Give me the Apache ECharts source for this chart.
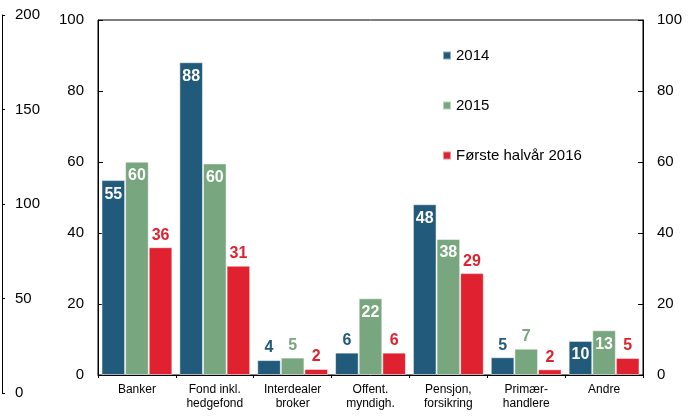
<!DOCTYPE html>
<html>
<head>
<meta charset="utf-8">
<script src="https://cdn.jsdelivr.net/npm/echarts@6/dist/echarts.min.js"></script>
<style>
  html, body { margin: 0; padding: 0; background: #fff; }
  #chart { width: 694px; height: 417px; }
</style>
</head>
<body>
<div id="chart"></div>
<script>
const categories = ['Banker', 'Fond inkl.\nhedgefond', 'Interdealer\nbroker', 'Offent.\nmyndigh.',
  'Pensjon,\nforsikring', 'Primær-\nhandlere', 'Andre'];
const values2014 = [54.9, 88.1, 4.2, 6.3, 48.1, 5.0, 9.6];
const values2015 = [60.1, 59.6, 4.9, 21.6, 38.3, 7.4, 12.6];
const values2016 = [36.0, 30.8, 1.7, 6.3, 28.7, 1.6, 4.8];
const seriesNames = ['2014', '2015', 'Første halvår 2016'];
const leftTicks = [0, 20, 40, 60, 80, 100];
const outerTicks = [0, 50, 100, 150, 200];

const colors = ['#215a7a', '#78a67e', '#e0212f'];
const font = 'Arial, "Liberation Sans", sans-serif';

// big bars get a white label inside, small ones a coloured label above
function barData (values, color, alwaysOutside) {
  return values.map(v => {
    const inside = !alwaysOutside && v > 8;
    return {
      value: v,
      label: inside
        ? { position: 'insideTop', distance: 6, color: '#fff' }
        : { position: 'top', distance: 4, color: color }
    };
  });
}

const labelBase = {
  show: true,
  fontFamily: font,
  fontSize: 16,
  fontWeight: 'bold',
  formatter: p => Math.round(p.value)
};

const chart = echarts.init(document.getElementById('chart'));

chart.setOption({
  animation: false,
  textStyle: { fontFamily: font },
  legend: {
    orient: 'vertical',
    left: 437,
    top: 43,
    itemGap: 35,
    itemWidth: 8,
    itemHeight: 8,
    itemTextGap: 3,
    icon: 'rect',
    textStyle: { fontFamily: font, fontSize: 15, color: '#000' },
    data: seriesNames
  },
  grid: [
    {
      left: 98, right: 51, top: 20, bottom: 42,
      show: true, borderColor: '#000', borderWidth: 1
    },
    { left: 2, width: 1, top: 15, bottom: 24 }
  ],
  xAxis: [
    {
      type: 'category',
      gridIndex: 0,
      data: categories,
      axisLine: { lineStyle: { color: '#000', width: 1 } },
      axisTick: { show: true, length: 3, alignWithLabel: false, lineStyle: { color: '#000' } },
      axisLabel: { color: '#000', fontSize: 12, lineHeight: 14, margin: 8, interval: 0, fontFamily: font }
    },
    { type: 'value', gridIndex: 1, show: false }
  ],
  yAxis: [
    {
      type: 'value', gridIndex: 0, position: 'left',
      min: leftTicks[0], max: leftTicks[leftTicks.length - 1], interval: 20,
      axisLine: { show: true, lineStyle: { color: '#000' } },
      axisTick: { show: true, inside: true, length: 5, lineStyle: { color: '#000' } },
      axisLabel: { color: '#000', fontSize: 15, margin: 14, fontFamily: font },
      splitLine: { show: false }
    },
    {
      type: 'value', gridIndex: 0, position: 'right',
      min: leftTicks[0], max: leftTicks[leftTicks.length - 1], interval: 20,
      axisLine: { show: true, lineStyle: { color: '#000' } },
      axisTick: { show: true, inside: true, length: 5, lineStyle: { color: '#000' } },
      axisLabel: { color: '#000', fontSize: 15, margin: 14, fontFamily: font },
      splitLine: { show: false }
    },
    {
      type: 'value', gridIndex: 1, position: 'left',
      min: outerTicks[0], max: outerTicks[outerTicks.length - 1], interval: 50,
      axisLine: { show: true, lineStyle: { color: '#000' } },
      axisTick: { show: true, inside: true, length: 3, lineStyle: { color: '#000' } },
      axisLabel: { inside: true, color: '#000', fontSize: 15, margin: 13, fontFamily: font },
      splitLine: { show: false }
    }
  ],
  series: [
    {
      name: seriesNames[0], type: 'bar', xAxisIndex: 0, yAxisIndex: 0,
      barGap: '0%', barCategoryGap: '9%',
      itemStyle: { color: colors[0], borderColor: 'rgba(255,255,255,0.5)', borderWidth: 1 },
      label: labelBase,
      data: barData(values2014, colors[0], false)
    },
    {
      name: seriesNames[1], type: 'bar', xAxisIndex: 0, yAxisIndex: 0,
      barGap: '0%', barCategoryGap: '9%',
      itemStyle: { color: colors[1], borderColor: 'rgba(255,255,255,0.5)', borderWidth: 1 },
      label: labelBase,
      data: barData(values2015, colors[1], false)
    },
    {
      name: seriesNames[2], type: 'bar', xAxisIndex: 0, yAxisIndex: 0,
      barGap: '0%', barCategoryGap: '9%',
      itemStyle: { color: colors[2], borderColor: 'rgba(255,255,255,0.5)', borderWidth: 1 },
      label: labelBase,
      data: barData(values2016, colors[2], true)
    }
  ]
});
</script>
</body>
</html>
